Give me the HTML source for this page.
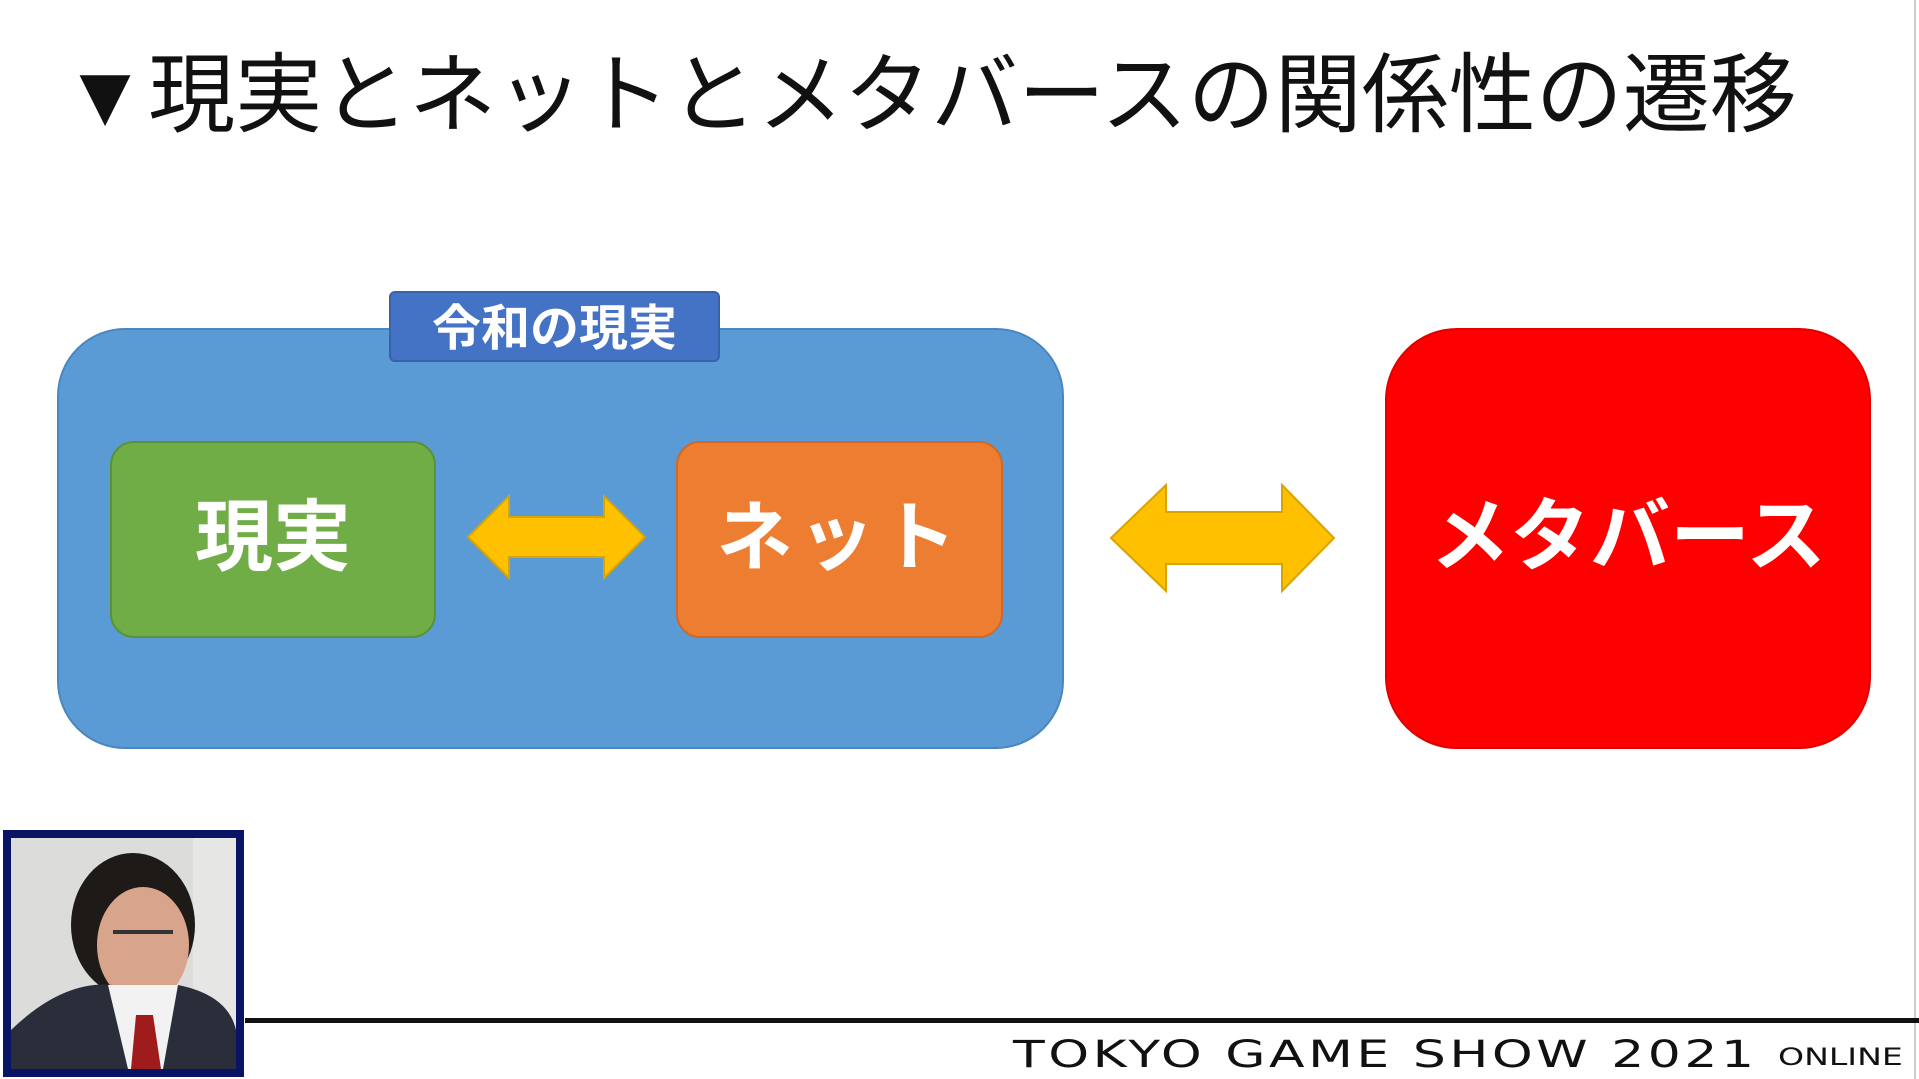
<!DOCTYPE html>
<html><head><meta charset="utf-8"><style>
body{margin:0;width:1919px;height:1079px;background:#fff;overflow:hidden;position:relative;font-family:"Liberation Sans","Noto Sans CJK JP",sans-serif}
.a{position:absolute}
.t{color:#fff;font-weight:bold;display:flex;align-items:center;justify-content:center;box-sizing:border-box;padding-bottom:18px}
</style></head><body>
<div class="a" style="left:62px;top:36px;font-size:87px;line-height:120px;color:#111;white-space:nowrap">▼現実とネットとメタバースの関係性の遷移</div>
<div class="a" style="left:1914px;top:0;width:2px;height:1079px;background:#ccc"></div>

<div class="a" style="left:57px;top:328px;width:1003px;height:417px;background:#5b9bd5;border:2px solid #4a86c0;border-radius:68px"></div>
<div class="a t" style="left:389px;top:291px;width:331px;height:71px;background:#4472c4;border:2px solid #3a62ab;border-radius:6px;font-size:49px;padding-bottom:4px">令和の現実</div>
<div class="a t" style="left:110px;top:441px;width:326px;height:197px;background:#70ad47;border:2px solid #5a9236;border-radius:24px;font-size:78px">現実</div>
<div class="a t" style="left:676px;top:441px;width:327px;height:197px;background:#ed7d31;border:2px solid #d0682a;border-radius:24px;font-size:76px;letter-spacing:6px">ネット</div>
<div class="a t" style="left:1385px;top:328px;width:486px;height:421px;background:#ff0000;border:2px solid #e00000;border-radius:72px;font-size:80px">メタバース</div>

<svg class="a" style="left:0;top:0" width="1919" height="1079">
<polygon points="468,537 509,496 509,517 604,517 604,496 645,537 604,578 604,557 509,557 509,578" fill="#ffc000" stroke="#d9a400" stroke-width="2"/>
<polygon points="1111,538 1166,485 1166,512 1282,512 1282,485 1334,538 1282,591 1282,564 1166,564 1166,591" fill="#ffc000" stroke="#d9a400" stroke-width="2"/>
<rect x="245" y="1018" width="1674" height="5" fill="#111"/>
</svg>

<div class="a" style="left:1013px;top:1030px;font-size:44px;line-height:50px;color:#111;letter-spacing:3px;transform:scale(1.18,0.85);transform-origin:0 50%;white-space:nowrap;font-family:'DejaVu Sans',sans-serif">TOKYO GAME SHOW 2021</div>
<div class="a" style="left:1778px;top:1040px;font-size:24px;line-height:34px;color:#111;white-space:nowrap;transform:scaleX(1.38);transform-origin:0 50%;font-family:'DejaVu Sans',sans-serif">ONLINE</div>

<svg class="a" style="left:3px;top:830px" width="241" height="247">
<rect x="0" y="0" width="241" height="247" fill="#0a1464"/>
<rect x="8" y="8" width="225" height="231" fill="#dcdcda"/>
<rect x="190" y="8" width="43" height="231" fill="#e6e6e4"/>
<ellipse cx="130" cy="95" rx="62" ry="72" fill="#1e1a18"/>
<ellipse cx="140" cy="115" rx="46" ry="58" fill="#d9a48c"/>
<path d="M8,200 Q60,150 110,155 L175,155 Q225,165 233,200 L233,239 L8,239 Z" fill="#2a2d3a"/>
<path d="M105,155 L175,155 L160,239 L125,239 Z" fill="#f2f2f2"/>
<path d="M133,185 L150,185 L158,239 L128,239 Z" fill="#a01c1c"/>
<rect x="110" y="100" width="60" height="4" fill="#333"/>
</svg>
</body></html>
